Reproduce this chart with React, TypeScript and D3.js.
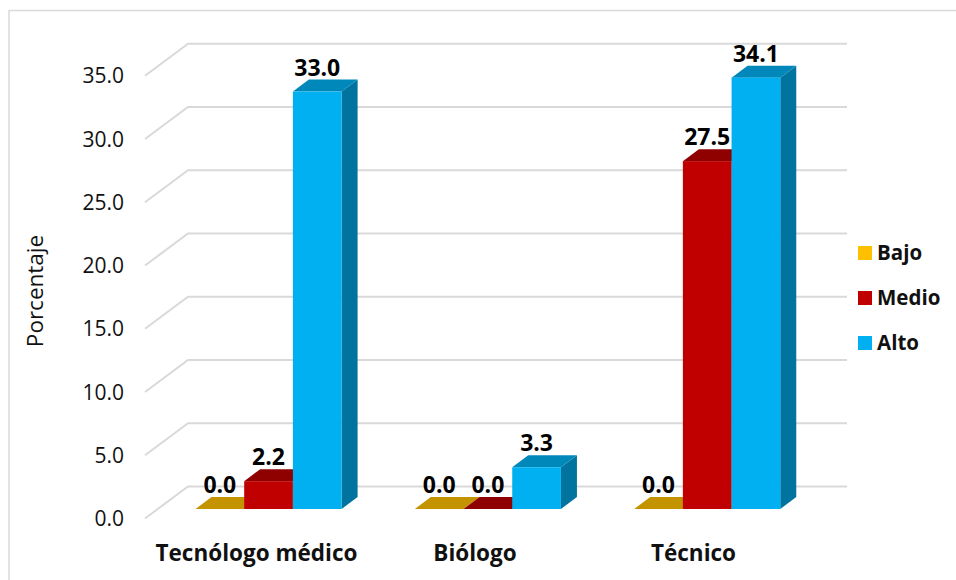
import React from "react";
import * as d3 from "d3";

const categories = ["Tecnólogo médico", "Biólogo", "Técnico"];
const seriesNames = ["Bajo", "Medio", "Alto"];
const bajo = [0.0, 0.0, 0.0];
const medio = [2.2, 0.0, 27.5];
const alto = [33.0, 3.3, 34.1];
const seriesValues = [bajo, medio, alto];
const yTicks = [0, 5, 10, 15, 20, 25, 30, 35];

// face, top and side shades of each series
const faceColors = ["#FFC000", "#C00000", "#00B0F0"];
const topColors = ["#C49400", "#8F0000", "#0088BA"];
const sideColors = ["#A67D00", "#7A0000", "#00739E"];

const W = 956;
const H = 580;
const FONT = "'Open Sans', sans-serif";

// Plot geometry: the front wall of the 3D box and the depth offsets
const frontLeft = 145;
const wallDx = 43;
const wallDy = -32;
const gridRight = 847;
const barDx = 16;
const barDy = -12;
const barBase = 509;
const unitHeight = 12.65;

const y = d3.scaleLinear().domain([0, 35]).range([barBase, barBase - 35 * unitHeight]);
const x = d3.scaleBand<string>().domain(categories).range([157.5, 815.5]).paddingInner(0).paddingOuter(0);
// Axis names sit on the front plane, so their band differs from the bars' band
const xLabel = d3.scaleBand<string>().domain(categories).range([147.25, 802.75]);
const groupWidth = 146.1;
const sub = d3.scaleBand<string>().domain(seriesNames).range([0, groupWidth]);

const fmt = d3.format(".1f");

export default function App() {
  const area = d3.line<[number, number]>();
  return (
    <svg
      width={W}
      height={H}
      viewBox={`0 0 ${W} ${H}`}
      style={{ position: "absolute", left: 0, top: 0, background: "#fff" }}
      fontFamily={FONT}
    >
      <rect x={9} y={10.5} width={960} height={600} fill="#fff" stroke="#D9D9D9" strokeWidth={1.5} />

      {yTicks.map((t) => {
        const front = y(t) + 9.5;
        const back = front + wallDy;
        return (
          <g key={t}>
            <path
              d={area([[frontLeft, front], [frontLeft + wallDx, back], [gridRight, back]]) ?? ""}
              fill="none"
              stroke="#D9D9D9"
              strokeWidth={2}
            />
            <text x={124} y={front + 7.5} textAnchor="end" fontSize={21} fill="#111">
              {fmt(t)}
            </text>
          </g>
        );
      })}

      <text
        transform="translate(43,291) rotate(-90)"
        textAnchor="middle"
        fontSize={22.5}
        fill="#111"
      >
        Porcentaje
      </text>

      {categories.map((cat, ci) => {
        const gx = (x(cat) ?? 0) + 38;
        return (
          <g key={cat}>
            {seriesNames.map((s, si) => {
              const v = seriesValues[si][ci];
              const bx = gx + (sub(s) ?? 0);
              const bw = sub.bandwidth();
              const top = y(v);
              const pts = (a: [number, number][]) => (area(a) ?? "") + "Z";
              return (
                <g key={s}>
                  <path
                    d={pts([[bx + bw, top], [bx + bw + barDx, top + barDy], [bx + bw + barDx, barBase + barDy], [bx + bw, barBase]])}
                    fill={sideColors[si]}
                  />
                  <path
                    d={pts([[bx, top], [bx + barDx, top + barDy], [bx + bw + barDx, top + barDy], [bx + bw, top]])}
                    fill={topColors[si]}
                  />
                  <rect x={bx} y={top} width={bw} height={barBase - top} fill={faceColors[si]} />
                </g>
              );
            })}
          </g>
        );
      })}

      {categories.map((cat) => (
        <text
          key={cat}
          x={(xLabel(cat) ?? 0) + xLabel.bandwidth() / 2}
          y={561}
          textAnchor="middle"
          fontSize={22.5}
          fontWeight={700}
          fill="#111"
        >
          {cat}
        </text>
      ))}

      {/* value labels are drawn last so they sit above every bar */}
      {categories.map((cat, ci) =>
        seriesNames.map((s, si) => {
          const v = seriesValues[si][ci];
          const gx = (x(cat) ?? 0) + 38;
          const bx = gx + (sub(s) ?? 0);
          return (
            <text
              key={cat + s}
              x={bx + sub.bandwidth() / 2}
              y={y(v) - 16}
              textAnchor="middle"
              fontSize={23}
              fontWeight={700}
              fill="#000"
            >
              {fmt(v)}
            </text>
          );
        })
      )}

      {seriesNames.map((s, si) => (
        <g key={s} transform={`translate(858,${246 + si * 45})`}>
          <rect width={14} height={14} fill={faceColors[si]} />
          <text x={19} y={14} fontSize={20.5} fontWeight={700} fill="#111">
            {s}
          </text>
        </g>
      ))}
    </svg>
  );
}
